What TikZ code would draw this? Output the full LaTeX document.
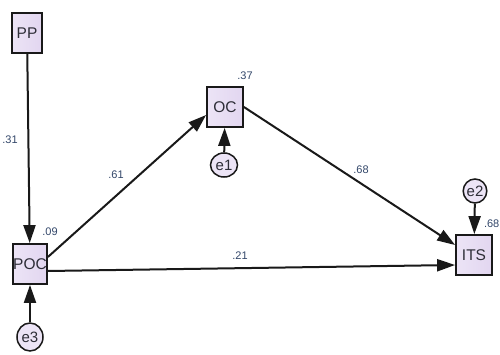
\documentclass[tikz,border=0pt]{standalone}
\usepackage{fontspec}
\setmainfont{Liberation Sans}
\usetikzlibrary{arrows.meta,shapes.geometric}
\definecolor{boxfill}{RGB}{236,228,246}
\definecolor{boxfillb}{RGB}{226,214,240}
\definecolor{linec}{RGB}{25,25,25}
\definecolor{labc}{RGB}{50,70,105}
\definecolor{txtc}{RGB}{45,45,55}
\tikzset{
  obs/.style={draw=linec, line width=1.8pt, rectangle, left color=boxfill, right color=boxfillb,
    minimum width=34pt, minimum height=40pt, inner sep=0pt, font=\fontsize{15.5}{15.5}\selectfont, text=txtc},
  err/.style={draw=linec, line width=1.5pt, ellipse, fill=boxfill, inner sep=0pt,
    minimum width=25pt, minimum height=25pt, font=\fontsize{15}{15}\selectfont, text=txtc},
  path/.style={draw=linec, line width=2pt, -{Triangle[length=18pt,width=12pt]}},
  coef/.style={font=\fontsize{11}{11}\selectfont, text=labc, inner sep=0pt}
}
\begin{document}
\begin{tikzpicture}[x=1pt,y=-1pt]
\useasboundingbox (0,0) rectangle (500,355);
\node[obs, minimum width=30pt] (pp) at (27,33) {PP};
\node[obs] (poc) at (30,264) {POC};
\node[obs, minimum width=36pt] (oc) at (225,107) {OC};
\node[obs, minimum width=36pt] (its) at (474,255) {ITS};
\node[err, minimum width=26pt, minimum height=28pt] (e3) at (30,337) {e3};
\node[err, minimum width=27pt, minimum height=24pt] (e1) at (224,165) {e1};
\node[err, minimum width=23pt, minimum height=24pt] (e2) at (475,191) {e2};

\draw[path] (pp) -- (poc);
\draw[path] (e3) -- (poc);
\draw[path] (e1) -- (oc);
\draw[path] (e2) -- (its);
\draw[path] ([yshift=7pt]poc.east) -- ([yshift=-8pt]oc.west);
\draw[path] (oc.east) -- ([yshift=10pt]its.west);
\draw[path] ([yshift=-7pt]poc.east) -- ([yshift=-10pt]its.west);

\node[coef] (l31) at (10,140) {.31};
\node[coef] (l61) at (116,175) {.61};
\node[coef] (l68) at (361,170) {.68};
\node[coef] (l21) at (240,256) {.21};
\node[coef] (l09) at (50,232) {.09};
\node[coef] (l37) at (245,76) {.37};
\node[coef, anchor=east] (l68b) at (499.5,224) {.68};
\end{tikzpicture}
\end{document}
